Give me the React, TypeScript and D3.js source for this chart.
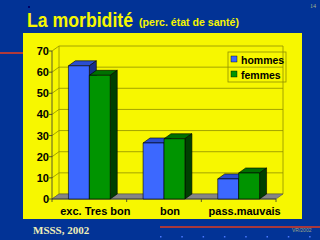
import React from "react";
import * as d3 from "d3";

const categories = ["exc. Tres bon", "bon", "pass.mauvais"];
const seriesNames = ["hommes", "femmes"];
const hommes = [63, 26.5, 9.5];
const femmes = [58.5, 28.5, 12.3];
const yTicks = [0, 10, 20, 30, 40, 50, 60, 70];

const W = 320, H = 240;
const DX = 7, DY = 5;
const FONT = "'Liberation Sans', Arial, sans-serif";

const front = { top: { fill: "#2c4fd6" }, face: "#3d6bff", side: "#1b2f8f" };
const palette = [
  { face: "#3c68ff", top: "#2a4ed0", side: "#182d8a" },
  { face: "#009400", top: "#007000", side: "#004000" },
];

export default function App() {
  const x0 = d3.scaleBand<string>().domain(categories).range([52, 276]).paddingInner(0.44).paddingOuter(0.22);
  const band = d3.scaleBand<string>().domain(categories).range([52, 276]);
  const x1 = d3.scaleBand<string>().domain(seriesNames).range([0, x0.bandwidth()]);
  const y = d3.scaleLinear().domain([0, 70]).range([199, 51]);
  const values = [hommes, femmes];
  const y0 = y(0);
  const gridColor = "#8f8f00";

  const bars: React.ReactNode[] = [];
  categories.forEach((c, ci) => {
    seriesNames.forEach((s, si) => {
      const v = values[si][ci];
      const x = (x0(c) as number) + (x1(s) as number);
      const w = x1.bandwidth();
      const yt = y(v);
      const col = palette[si];
      bars.push(
        <g key={c + s} stroke="#000" strokeWidth={0.6} strokeLinejoin="round">
          <polygon points={`${x},${yt} ${x + DX},${yt - DY} ${x + w + DX},${yt - DY} ${x + w},${yt}`} fill={col.top} />
          <polygon points={`${x + w},${yt} ${x + w + DX},${yt - DY} ${x + w + DX},${y0 - DY} ${x + w},${y0}`} fill={col.side} />
          <rect x={x} y={yt} width={w} height={y0 - yt} fill={col.face} />
        </g>
      );
    });
  });

  const xl = 52, xr = 276;
  return (
    <svg width={W} height={H} style={{ position: "absolute", left: 0, top: 0 }} fontFamily={FONT}>
      <rect width={W} height={H} fill="#023396" />
      <rect x={0} y={52} width={23} height={2} fill="#b03a3a" />
      <rect x={23} y={33} width={279} height={186} fill="#f7f700" />
      <text x={310} y={8} fontSize={6} fill="#a8b88a" fontFamily="'Liberation Serif', serif">14</text>
      <rect x={28} y={6} width={2} height={2} fill="#000066" />
      <text x={27} y={27} fontSize={19.5} fontWeight="bold" fill="#f7f700" textLength={106} lengthAdjust="spacingAndGlyphs">La morbidité</text>
      <text x={139} y={26} fontSize={10.5} fontWeight="bold" fill="#f7f700" textLength={100} lengthAdjust="spacingAndGlyphs">(perc. état de santé)</text>

      {/* back wall gridlines */}
      {yTicks.map((t) => (
        <g key={t} stroke={gridColor} strokeWidth={0.8}>
          <line x1={xl + DX} x2={xr + DX} y1={y(t) - DY} y2={y(t) - DY} />
          <line x1={xl} x2={xl + DX} y1={y(t)} y2={y(t) - DY} />
        </g>
      ))}
      <line x1={xl + DX} x2={xl + DX} y1={y(70) - DY} y2={y0 - DY} stroke={gridColor} strokeWidth={0.8} />
      <line x1={xr + DX} x2={xr + DX} y1={y(70) - DY} y2={y0 - DY} stroke={gridColor} strokeWidth={0.8} />
      {/* floor */}
      <polygon points={`${xl},${y0} ${xl + DX},${y0 - DY} ${xr + DX},${y0 - DY} ${xr},${y0}`} fill="#858585" stroke="#555" strokeWidth={0.6} />
      {/* left axis */}
      <line x1={xl} x2={xl} y1={y(70)} y2={y0} stroke="#333" strokeWidth={0.8} />
      {yTicks.map((t) => (
        <g key={"t" + t}>
          <line x1={xl - 3} x2={xl} y1={y(t)} y2={y(t)} stroke="#333" strokeWidth={0.8} />
          <text x={xl - 3} y={y(t) + 4} fontSize={11} fontWeight="bold" textAnchor="end" fill="#000">{t}</text>
        </g>
      ))}
      <line x1={xl} x2={xr} y1={y0} y2={y0} stroke="#333" strokeWidth={0.8} />
      {[0, 1, 2, 3].map((k) => {
        const xx = xl + band.step() * k;
        return <line key={"c" + k} x1={xx} x2={xx} y1={y0} y2={y0 + 3} stroke="#333" strokeWidth={0.8} />;
      })}
      {bars}
      {categories.map((c) => (
        <text key={c} x={(band(c) as number) + band.bandwidth() / 2 + 6} y={215} fontSize={11} fontWeight="bold" textAnchor="middle" fill="#000">{c}</text>
      ))}
      {/* legend */}
      <rect x={228} y={52} width={58} height={30} fill="none" stroke="#8f8f00" strokeWidth={0.8} />
      {seriesNames.map((s, i) => (
        <g key={s}>
          <rect x={231} y={56 + i * 15} width={6} height={6} fill={palette[i].face} stroke="#000" strokeWidth={0.4} />
          <text x={241} y={63.5 + i * 15} fontSize={10.5} fontWeight="bold" fill="#000">{s}</text>
        </g>
      ))}
      {/* footer */}
      <text x={33} y={234} fontSize={11} fontWeight="bold" fill="#f0eeb8" fontFamily="'Liberation Serif', serif">MSSS, 2002</text>
      <rect x={160} y={226} width={160} height={2} fill="#a8383c" />
      <text x={292} y={232} fontSize={5} fill="#9aa88a">VR/2002</text>
      {[0, 1, 2, 3, 4, 5, 6, 7].map((k) => (
        <rect key={"d" + k} x={160 + k * 21.3} y={236} width={1.5} height={1.5} fill="#4a78ff" />
      ))}
    </svg>
  );
}
